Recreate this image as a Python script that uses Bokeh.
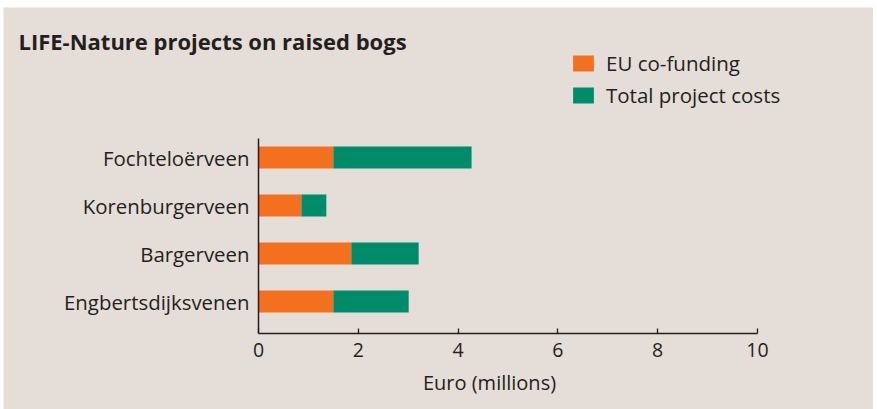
from bokeh.plotting import figure
from bokeh.models import ColumnDataSource, Label, Legend, LegendItem, FixedTicker, Spacer, LinearAxis
from bokeh.layouts import row, column
from bokeh.embed import file_html
from bokeh.resources import INLINE

# ---- data ----
categories = ["Fochteloërveen", "Korenburgerveen", "Bargerveen", "Engbertsdijksvenen"]
eu_funding = [1.50, 0.86, 1.86, 1.50]
total_costs = [4.27, 1.36, 3.21, 3.01]
x_ticks = [0, 2, 4, 6, 8, 10]
series_labels = ["EU co-funding", "Total project costs"]
title_text = "LIFE-Nature projects on raised bogs"
x_label_text = "Euro (millions)"

# ---- style ----
BG = "#e5ddd7"
TXT = "#231f20"
ORANGE = "#f37021"
GREEN = "#008c6a"
FONT = "Open Sans"

n = len(categories)
ypos = [n - 1 - i for i in range(n)]
Y_LO, Y_HI = -0.667, 3.396   # extent of the drawn value area

src = ColumnDataSource(dict(y=ypos, eu=eu_funding, total=total_costs, zero=[0] * n))

p = figure(width=870, height=402, x_range=(-5.110, 12.325), y_range=(-2.250, 6.125),
           output_backend="svg", toolbar_location=None,
           min_border_left=0, min_border_right=0, min_border_top=0, min_border_bottom=0,
           x_axis_location=None, y_axis_location=None)
p.background_fill_color = BG
p.border_fill_color = BG
p.outline_line_color = None
p.xgrid.visible = False
p.ygrid.visible = False

r1 = p.hbar(y="y", left="zero", right="eu", height=0.46, source=src, fill_color=ORANGE, line_color=None)
r2 = p.hbar(y="y", left="eu", right="total", height=0.46, source=src, fill_color=GREEN, line_color=None)

# x axis
xa = LinearAxis(fixed_location=Y_LO, bounds=(0, 10))
xa.ticker = FixedTicker(ticks=x_ticks)
xa.minor_tick_line_color = None
xa.major_tick_in = 5
xa.major_tick_out = 0
xa.major_tick_line_color = TXT
xa.major_tick_line_width = 1.3
xa.axis_line_color = TXT
xa.axis_line_width = 1.5
xa.major_label_text_font = FONT
xa.major_label_text_font_size = "19.5px"
xa.major_label_text_color = TXT
xa.major_label_standoff = 9
p.add_layout(xa, "below")

# y axis
ya = LinearAxis(fixed_location=0, bounds=(Y_LO, Y_HI))
ya.ticker = FixedTicker(ticks=ypos)
ya.major_label_overrides = {y: c for y, c in zip(ypos, categories)}
ya.minor_tick_line_color = None
ya.major_tick_in = 0
ya.major_tick_out = 0
ya.axis_line_color = TXT
ya.axis_line_width = 1.5
ya.major_label_text_font = FONT
ya.major_label_text_font_size = "20.4px"
ya.major_label_text_color = TXT
ya.major_label_standoff = 9
p.add_layout(ya, "left")

# title
p.add_layout(Label(x=15, y=369, x_units="screen", y_units="screen", text=title_text,
                   text_font=FONT, text_font_size="22px", text_font_style="bold",
                   text_color=TXT, text_baseline="alphabetic"))
# x axis label
p.add_layout(Label(x=486, y=27, x_units="screen", y_units="screen", text=x_label_text,
                   text_font=FONT, text_font_size="20px", text_color=TXT,
                   text_align="center", text_baseline="middle"))

legend = Legend(items=[LegendItem(label=series_labels[0], renderers=[r1]),
                       LegendItem(label=series_labels[1], renderers=[r2])],
                location=(567, 300), orientation="vertical",
                glyph_width=26, glyph_height=20, label_height=20, spacing=4,
                label_standoff=10, padding=0, margin=0,
                border_line_color=None, background_fill_alpha=0,
                label_text_font=FONT, label_text_font_size="20.5px", label_text_color=TXT)
p.add_layout(legend)

layout = row(Spacer(width=3), column(Spacer(height=7), p))
open("out.html", "w").write(file_html(layout, INLINE))
